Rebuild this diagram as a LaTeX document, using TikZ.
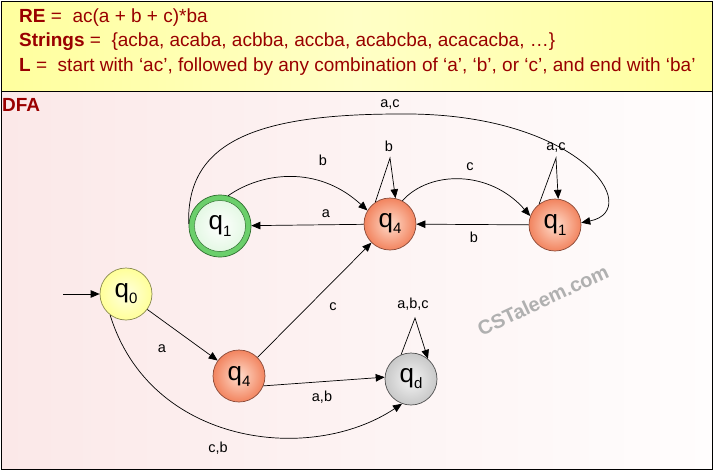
\documentclass[tikz,border=0pt]{standalone}
\usepackage{fontspec}
\setmainfont{Liberation Sans}
\usetikzlibrary{arrows.meta,shapes.geometric}
\definecolor{dred}{HTML}{990000}
\definecolor{hdrA}{HTML}{FFFF9E}
\definecolor{hdrB}{HTML}{FFFFC6}
\definecolor{pinkA}{HTML}{FBE8E8}
\definecolor{pinkB}{HTML}{FDF3F3}
\definecolor{pinkC}{HTML}{FFFDFD}
\definecolor{orgin}{HTML}{FFDCCB}
\definecolor{orgout}{HTML}{F2845F}
\definecolor{orgline}{HTML}{8A4A38}
\definecolor{yelin}{HTML}{FFFFE0}
\definecolor{yelout}{HTML}{FFFF99}
\definecolor{yelline}{HTML}{8A8A50}
\definecolor{gryin}{HTML}{F4F4F4}
\definecolor{gryout}{HTML}{C8C8C8}
\definecolor{gryline}{HTML}{505050}
\definecolor{grring}{HTML}{6BCF6B}
\definecolor{grdark}{HTML}{2E6E2E}
\definecolor{grin}{HTML}{E4F8E4}
\definecolor{wmark}{HTML}{B0B0B0}
\newcommand{\qs}[1]{{\fontsize{26}{26}\selectfont q\raisebox{-6pt}{\fontsize{15}{15}\selectfont #1}}}
\tikzset{
  st/.style={circle, minimum size=52pt, inner sep=0pt, line width=0.7pt},
  org/.style={st, draw=orgline, inner color=orgin, outer color=orgout},
  yel/.style={st, draw=yelline, inner color=yelin, outer color=yelout},
  gry/.style={st, draw=gryline, inner color=gryin, outer color=gryout},
  ring/.style={circle, minimum size=62pt, inner sep=0pt, draw=grdark, line width=0.7pt, fill=grring},
  inring/.style={circle, minimum size=51pt, inner sep=0pt, draw=grdark, line width=0.5pt, inner color=white, outer color=grin},
  ed/.style={draw, line width=0.7pt, -{Triangle[length=9pt,width=7.5pt]}},
  lb/.style={font=\fontsize{14.5}{14.5}\selectfont, inner sep=0pt},
  hdr/.style={anchor=base west, inner sep=0pt, text=dred, font=\fontsize{19}{19}\selectfont}
}
\begin{document}
\begin{tikzpicture}[x=1pt,y=-1pt]
\useasboundingbox (0,0) rectangle (716,472);
% backgrounds
\fill[left color=hdrA, right color=hdrA, middle color=hdrB] (1.5,1.5) rectangle (712.5,91.5);
\fill[left color=pinkA, right color=pinkC, middle color=pinkB] (1.5,91.5) rectangle (712.5,469.5);
\fill[pinkA] (1.5,91.5) rectangle (6,469.5);
\draw[line width=1.2pt] (1.5,1.5) rectangle (712.5,469.5);
\draw[line width=1.2pt] (1.5,91.5) -- (712.5,91.5);
% header
\node[hdr] (h1) at (19,22.7) {\textbf{RE} =~ ac(a + b + c)*ba};
\node[hdr] (h2) at (19,46.7) {\textbf{Strings} =~ \{acba, acaba, acbba, accba, acabcba, acacacba, …\}};
\node[hdr] (h3) at (19,71) {\textbf{L} =~ start with ‘ac’, followed by any combination of ‘a’, ‘b’, or ‘c’, and end with ‘ba’};
\node[hdr] (dfa) at (2,111) {\textbf{DFA}};
% watermark
\node[text=wmark, font=\bfseries\fontsize{20}{20}\selectfont, rotate=25, inner sep=0pt] (wm) at (543,300) {CSTaleem.com};
% states
\node[yel] (q0) at (126,294) {\qs0};
\node[ring] (g) at (220,226) {};
\node[inring] (gi) at (220,226) {\qs1};
\node[org] (t) at (390,224) {\qs4};
\node[org] (r) at (555,225) {\qs1};
\node[org] (b) at (239,376) {\qs4};
\node[gry] (d) at (411,379) {\qs d};
% coordinates
\coordinate (s) at (63,294);
\coordinate (da) at (415,318);
\coordinate (ta) at (390,158);
\coordinate (ra) at (556,158);
\coordinate (ctop) at (400,114);
% edges
\draw[ed] (s) -- (q0);
\draw[ed] (q0) -- (b);
\draw[ed] (b) -- (t);
\draw[ed] (b.-22) -- (d.176);
\draw[ed] (q0.-127) .. controls (150,445) and (310,465) .. (d.-110);
\draw[ed] (d.112) -- (da) -- (d.50);
\draw[ed] (t) -- (g);
\draw[ed] (g.75) .. controls (262,172) and (318,165) .. (t.149);
\draw[ed] (t.124) -- (ta) -- (t.78);
\draw[ed] (t.62) .. controls (430,170) and (490,170) .. (r.160);
\draw[ed] (r) -- (t);
\draw[ed] (r.127) -- (ra) -- (r.83);
\draw[ed] (g.176) .. controls (186,140) and (260,114) .. (ctop) .. controls (580,112) and (645,210) .. (r.5);
% labels
\node[lb] (la1) at (162,349) {a};
\node[lb] (la2) at (333,307) {c};
\node[lb] (la3) at (322,397) {a,b};
\node[lb] (la4) at (218,448) {c,b};
\node[lb] (la5) at (413,304) {a,b,c};
\node[lb] (la6) at (326,214) {a};
\node[lb] (la7) at (323,160) {b};
\node[lb] (la8) at (389,146) {b};
\node[lb] (la9) at (470,167) {c};
\node[lb] (la10) at (474,237) {b};
\node[lb] (la11) at (556,148) {a,c};
\node[lb] (la12) at (390,105) {a,c};
\end{tikzpicture}
\end{document}
